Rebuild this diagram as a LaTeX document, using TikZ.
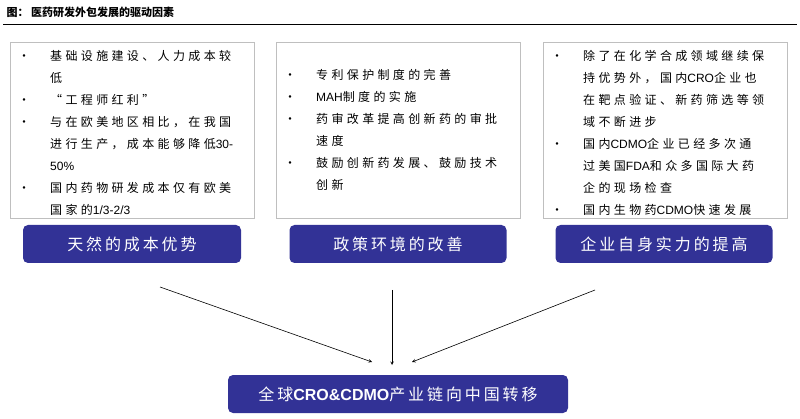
\documentclass[tikz,border=0pt]{standalone}
\usepackage{fontspec}
\setmainfont{Noto Sans CJK SC}
\newfontfamily\spacedfont[LetterSpace=28]{Noto Sans CJK SC}
\newfontfamily\btnfont[LetterSpace=18]{Noto Sans CJK SC}
\newfontfamily\latfont{Liberation Sans}
\newcommand{\lat}[1]{{\latfont #1}}
\usetikzlibrary{positioning}
\definecolor{btnblue}{RGB}{50,50,150}
\newcommand{\bul}{\textbullet}
\begin{document}
\begin{tikzpicture}[x=1pt,y=-1pt,>=stealth,
  textbox/.style={draw=black!25,line width=0.8pt,anchor=north west,minimum width=244pt,minimum height=176pt,inner sep=0pt},
  btn/.style={fill=btnblue,text=white,rounded corners=5pt,minimum height=38pt,font=\fontsize{16}{18}\btnfont},
  flow/.style={->,semithick}]
  \useasboundingbox (0,0) rectangle (800,419);
  \node[anchor=west,font=\fontsize{11}{13}\selectfont\bfseries] (title) at (3,12) {图：\ 医药研发外包发展的驱动因素};
  \draw[line width=0.8pt] (3,24) -- (797,24);

  % top boxes
  \node[textbox] (cost) at (10,42) {};
  \node[textbox] (policy) at (276,42) {};
  \node[textbox] (self) at (543,42) {};

  \tikzset{every node/.append style={font=\fontsize{12}{22}\spacedfont}}
  \node[anchor=north west,inner sep=0pt] (costtxt) at ([shift={(8,3)}]cost.north west)
    {\begin{tabular}{@{}p{32pt}@{}l@{}}
    \bul & 基础设施建设、人力成本较\\
         & 低\\
    \bul & “工程师红利”\\
    \bul & 与在欧美地区相比，在我国\\
         & 进行生产，成本能够降低\lat{30-}\\
         & \lat{50\%}\\
    \bul & 国内药物研发成本仅有欧美\\
         & 国家的\lat{1/3-2/3}
    \end{tabular}};
  \node[anchor=west,inner sep=0pt] (policytxt) at ([shift={(8,0)}]policy.west)
    {\begin{tabular}{@{}p{32pt}@{}l@{}}
    \bul & 专利保护制度的完善\\
    \bul & \lat{MAH}制度的实施\\
    \bul & 药审改革提高创新药的审批\\
         & 速度\\
    \bul & 鼓励创新药发展、鼓励技术\\
         & 创新
    \end{tabular}};
  \node[anchor=north west,inner sep=0pt] (selftxt) at ([shift={(8,3)}]self.north west)
    {\begin{tabular}{@{}p{32pt}@{}l@{}}
    \bul & 除了在化学合成领域继续保\\
         & 持优势外，国内\lat{CRO}企业也\\
         & 在靶点验证、新药筛选等领\\
         & 域不断进步\\
    \bul & 国内\lat{CDMO}企业已经多次通\\
         & 过美国\lat{FDA}和众多国际大药\\
         & 企的现场检查\\
    \bul & 国内生物药\lat{CDMO}快速发展
    \end{tabular}};

  % buttons
  \node[btn,minimum width=218pt] (costbtn) at (132,244) {天然的成本优势};
  \node[btn,minimum width=217pt] (policybtn) at (398,244) {政策环境的改善};
  \node[btn,minimum width=217pt] (selfbtn) at (664,244) {企业自身实力的提高};
  \node[btn,minimum width=340pt] (target) at (398,394) {全球{\latfont\bfseries CRO\&CDMO}产业链向中国转移};

  \coordinate (c1) at (160,287);
  \coordinate (c2) at (392,290);
  \coordinate (c3) at (595,290);
  \draw[flow] (c1) -- (372,362);
  \draw[flow] (c2) -- (392,365);
  \draw[flow] (c3) -- (412,362);
\end{tikzpicture}
\end{document}
